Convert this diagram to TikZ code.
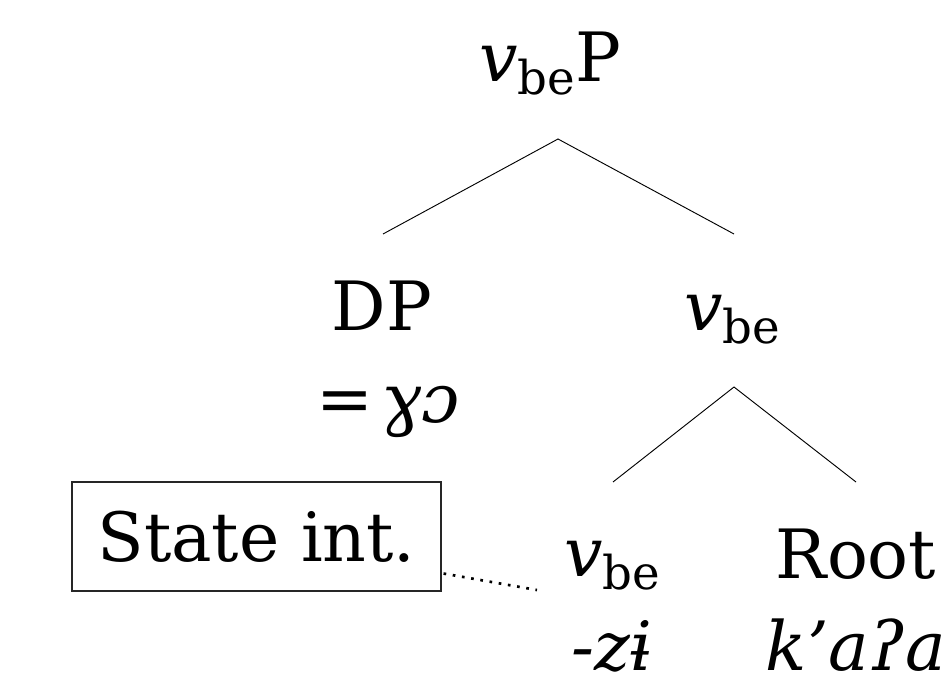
\documentclass[tikz,border=0pt]{standalone}
\usepackage{fontspec}
\setmainfont{DejaVu Serif}
\newcommand{\subfnt}{\fontsize{35pt}{38pt}\selectfont}
\newcommand{\vbesub}{\textit{v}\raisebox{-9.75pt}{\subfnt be}}
\begin{document}
\begin{tikzpicture}[x=0.75pt,y=-0.75pt,
  lbl/.style={inner sep=0pt, anchor=base, font=\fontsize{51pt}{60pt}\selectfont},
  branch/.style={line width=0.7pt, black},
  boxed/.style={draw=black!85, line width=0.8pt, inner sep=0pt,
    minimum width=276.75pt, minimum height=81.75pt,
    text height=37pt, text depth=0pt, font=\fontsize{51pt}{60pt}\selectfont},
  link/.style={line width=2pt, dash pattern=on 2pt off 5pt}]
\useasboundingbox (0,0) rectangle (946,688);
% labels
\node[lbl] (top) at (550,82) {\vbesub P};
\node[lbl] (dp) at (382,330) {DP};
\node[lbl] (dpx) at (388,422) {=\kern0.12em\textit{ɣɔ}};
\node[lbl] (vmid) at (732,330) {\vbesub};
\node[boxed] (box) at (256.5,536.5) {State int.};
\node[lbl] (vlow) at (612,576) {\vbesub};
\node[lbl] (vlowx) at (612,670) {\textit{-zɨ}};
\node[lbl] (root) at (856,578) {Root};
\node[lbl] (rootx) at (856,670) {\textit{k’aʔa}};
% branch points
\coordinate (tA) at (558,139);
\coordinate (tL) at (383,234);
\coordinate (tR) at (734,234);
\coordinate (mA) at (734,387);
\coordinate (mL) at (613,482);
\coordinate (mR) at (856,482);
\coordinate (dEnd) at (537,590);
\draw[branch] (tL) -- (tA) -- (tR);
\draw[branch] (mL) -- (mA) -- (mR);
\draw[link] ([shift={(2,-18)}]box.south east) -- (dEnd);
\end{tikzpicture}
\end{document}
